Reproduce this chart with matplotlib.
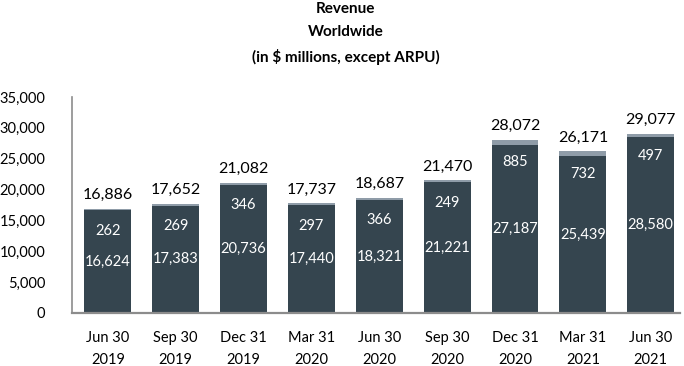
import matplotlib.pyplot as plt
import numpy as np

# data
periods = ["Jun 30\n2019", "Sep 30\n2019", "Dec 31\n2019", "Mar 31\n2020", "Jun 30\n2020",
           "Sep 30\n2020", "Dec 31\n2020", "Mar 31\n2021", "Jun 30\n2021"]
base_rev = [16624, 17383, 20736, 17440, 18321, 21221, 27187, 25439, 28580]
top_rev = [262, 269, 346, 297, 366, 249, 885, 732, 497]
totals = [16886, 17652, 21082, 17737, 18687, 21470, 28072, 26171, 29077]

DARK = "#35454f"
LIGHT = "#8f9ca8"
FONT = ["Lato", "DejaVu Sans"]

plt.rcParams['font.family'] = FONT

fig = plt.figure(figsize=(6.84, 3.66), dpi=100)
ax = fig.add_axes([0.105, 0.145, 0.889, 0.59])

x = np.arange(len(periods))
w = 0.69
ax.bar(x, base_rev, w, color=DARK, zorder=2)
ax.bar(x, top_rev, w, bottom=base_rev, color=LIGHT, zorder=2)

for i in range(len(x)):
    top = base_rev[i] + top_rev[i]
    ax.annotate(f"{totals[i]:,}", (x[i], top), xytext=(0, 5), textcoords="offset points",
                ha="center", va="bottom", fontsize=11.5, color="black")
    ax.annotate(f"{top_rev[i]:,}", (x[i], top), xytext=(0, -16), textcoords="offset points",
                ha="center", va="center", fontsize=10.5, color="white")
    ax.text(x[i], base_rev[i] / 2, f"{base_rev[i]:,}", ha="center", va="center",
            fontsize=10.5, color="white")

ax.set_xlim(-0.53, 8.43)
ax.set_ylim(0, 35000)
ax.set_yticks(np.arange(0, 35001, 5000))
ax.set_yticklabels([f"{v:,}" for v in range(0, 35001, 5000)], fontsize=10.5)
ax.set_xticks(x)
ax.set_xticklabels(periods, fontsize=10.5, linespacing=1.75)
ax.tick_params(axis="y", length=0, pad=19)
ax.tick_params(axis="x", length=0, pad=13)

for s in ["top", "right"]:
    ax.spines[s].set_visible(False)
ax.spines["left"].set_color("#8c8c8c")
ax.spines["bottom"].set_color("#8c8c8c")
ax.spines["left"].set_linewidth(1.2)
ax.spines["bottom"].set_linewidth(1.6)

fig.text(0.505, 0.995, "Revenue\nWorldwide\n(in $ millions, except ARPU)", ha="center", va="top",
         fontsize=11, fontweight="bold", linespacing=1.8)

fig.savefig("out.png", dpi=100)
